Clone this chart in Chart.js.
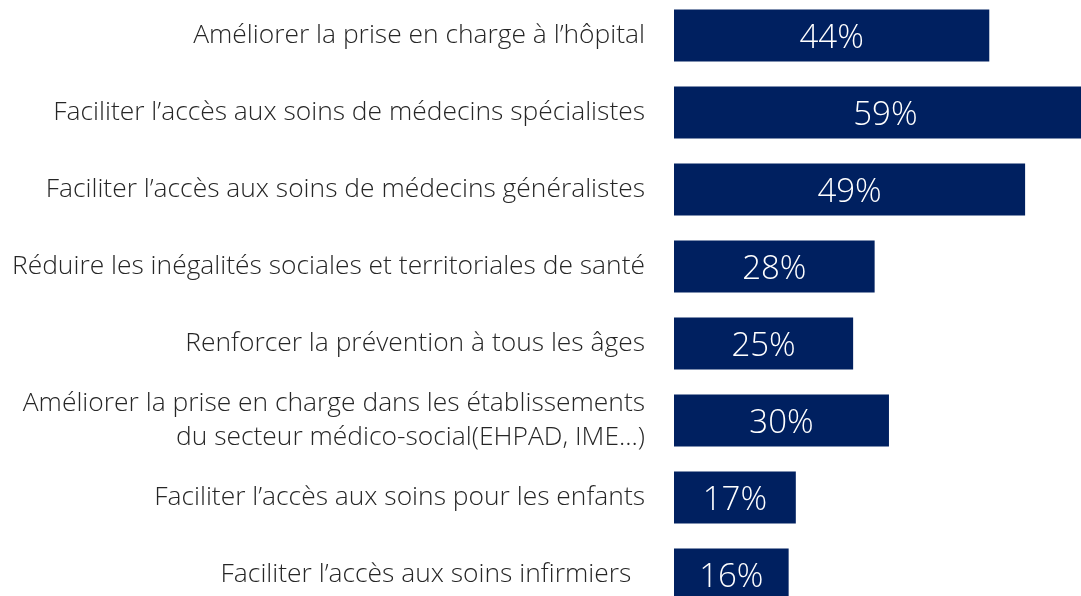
<!DOCTYPE html>
<html lang="fr">
<head>
  <meta charset="UTF-8">
  <title>Priorités santé</title>
  <script src="https://cdn.jsdelivr.net/npm/chart.js"></script>
  <style>
    html, body {
      margin: 0;
      padding: 0;
      background: #fff;
      overflow: hidden;
      width: 1081px;
      height: 596px;
    }
    .wrap {
      position: absolute;
      left: 0;
      top: -3px;
      width: 1081px;
      height: 616px;
    }
  </style>
</head>
<body>
  <div class="wrap"><canvas id="chart"></canvas></div>

  <script>
    const categories = [
      'Améliorer la prise en charge à l’hôpital',
      'Faciliter l’accès aux soins de médecins spécialistes',
      'Faciliter l’accès aux soins de médecins généralistes',
      'Réduire les inégalités sociales et territoriales de santé',
      'Renforcer la prévention à tous les âges',
      ['Améliorer la prise en charge dans les établissements', 'du secteur médico-social(EHPAD, IME...)'],
      'Faciliter l’accès aux soins pour les enfants',
      'Faciliter l’accès aux soins infirmiers  '
    ];
    const values = [44, 59, 49, 28, 25, 30, 17, 16];

    const FONT = '"Open Sans", Lato, sans-serif';

    // pourcentages en blanc au centre de chaque barre
    const valueLabels = {
      id: 'valueLabels',
      afterDatasetsDraw(chart) {
        const { ctx, scales: { x, y } } = chart;
        ctx.save();
        ctx.fillStyle = '#ffffff';
        ctx.font = '300 33px ' + FONT;
        ctx.textAlign = 'center';
        ctx.textBaseline = 'middle';
        values.forEach((v, i) => {
          ctx.fillText(v + '%', x.getPixelForValue(v / 2), y.getPixelForValue(i) + 3);
        });
        ctx.restore();
      }
    };

    new Chart(document.getElementById('chart'), {
      type: 'bar',
      data: {
        labels: categories,
        datasets: [{
          data: values,
          backgroundColor: '#002060',
          barPercentage: 0.675,
          categoryPercentage: 1
        }]
      },
      options: {
        indexAxis: 'y',
        responsive: true,
        maintainAspectRatio: false,
        animation: false,
        layout: { padding: 0 },
        scales: {
          x: {
            display: false,
            min: 0,
            max: 56.8
          },
          y: {
            afterFit: s => {
              s.width = 674;
              s.paddingTop = 0;
              s.paddingBottom = 0;
            },
            grid: { display: false, drawTicks: false },
            border: { display: false },
            ticks: {
              padding: 29,
              color: '#262626',
              font: { family: FONT, size: 26.4, weight: 300, lineHeight: 1.26 }
            }
          }
        },
        plugins: {
          legend: { display: false },
          tooltip: { enabled: false }
        }
      },
      plugins: [valueLabels]
    });
  </script>
</body>
</html>
